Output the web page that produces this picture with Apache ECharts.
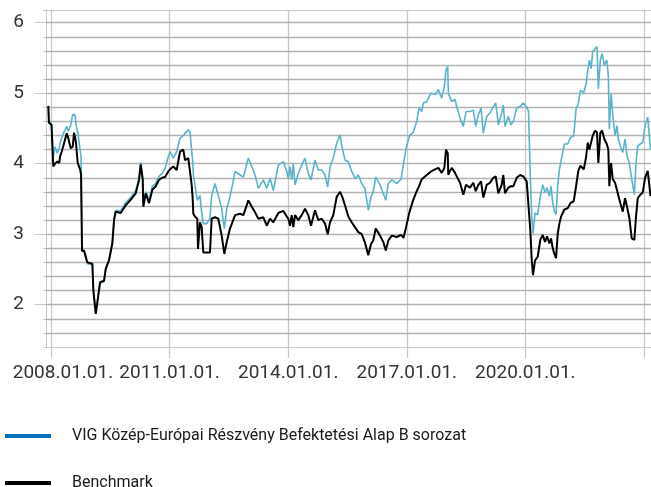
<!DOCTYPE html>
<html><head><meta charset="utf-8">
<script src="https://cdn.jsdelivr.net/npm/echarts@6/dist/echarts.min.js"></script>
<style>html,body{margin:0;padding:0;background:#fff}#c{width:651px;height:487px}</style>
</head><body><div id="c"></div><script>
// Observation dates as decimal years
const years = [2007.932,2007.949,2008.013,2008.058,2008.101,2008.159,2008.210,2008.228,2008.271,2008.311,
2008.354,2008.397,2008.438,2008.498,2008.549,2008.582,2008.607,2008.632,2008.675,2008.734,
2008.759,2008.784,2008.835,2008.918,2009.045,2009.070,2009.131,2009.171,2009.240,2009.341,
2009.384,2009.467,2009.551,2009.594,2009.637,2009.763,2009.890,2010.016,2010.143,2010.226,
2010.269,2010.320,2010.335,2010.396,2010.479,2010.563,2010.649,2010.732,2010.808,2010.884,
2010.967,2011.010,2011.094,2011.180,2011.263,2011.347,2011.390,2011.473,2011.516,2011.559,
2011.585,2011.600,2011.643,2011.701,2011.719,2011.769,2011.812,2011.853,2011.939,2012.022,
2012.065,2012.149,2012.232,2012.318,2012.384,2012.445,2012.528,2012.655,2012.781,2012.865,
2012.991,2013.077,2013.161,2013.244,2013.371,2013.457,2013.540,2013.624,2013.750,2013.877,
2013.963,2014.003,2014.046,2014.089,2014.129,2014.172,2014.256,2014.342,2014.425,2014.509,
2014.577,2014.678,2014.762,2014.848,2014.931,2015.000,2015.058,2015.141,2015.227,2015.311,
2015.369,2015.437,2015.521,2015.607,2015.690,2015.774,2015.860,2015.943,2016.027,2016.095,
2016.153,2016.214,2016.323,2016.406,2016.467,2016.533,2016.619,2016.745,2016.854,2016.917,
2016.980,2017.069,2017.158,2017.251,2017.309,2017.378,2017.418,2017.504,2017.613,2017.714,
2017.798,2017.884,2017.949,2017.992,2018.035,2018.050,2018.094,2018.137,2018.220,2018.263,
2018.347,2018.430,2018.498,2018.599,2018.683,2018.744,2018.810,2018.878,2018.936,2019.022,
2019.105,2019.189,2019.250,2019.316,2019.401,2019.442,2019.485,2019.568,2019.637,2019.695,
2019.781,2019.865,2019.948,2020.034,2020.080,2020.125,2020.161,2020.194,2020.244,2020.312,
2020.378,2020.439,2020.497,2020.548,2020.606,2020.649,2020.692,2020.733,2020.775,2020.818,
2020.859,2020.902,2020.985,2021.071,2021.137,2021.223,2021.281,2021.339,2021.390,2021.476,
2021.534,2021.577,2021.618,2021.661,2021.704,2021.762,2021.812,2021.845,2021.896,2021.939,
2021.997,2022.058,2022.098,2022.123,2022.167,2022.210,2022.268,2022.319,2022.351,2022.402,
2022.463,2022.521,2022.571,2022.630,2022.690,2022.756,2022.799,2022.842,2022.908,2022.969,
2023.027,2023.095,2023.141,2023.166];

const fund = [4.82,4.60,4.57,4.10,4.24,4.15,4.22,4.29,4.36,4.43,
4.48,4.53,4.46,4.55,4.70,4.72,4.69,4.55,4.45,4.20,
4.10,2.78,2.76,2.58,2.57,2.22,1.89,2.05,2.30,2.33,
2.52,2.63,2.90,3.22,3.34,3.33,3.45,3.52,3.62,3.79,
4.02,3.80,3.45,3.60,3.48,3.68,3.72,3.82,3.86,3.93,
4.10,4.17,4.08,4.17,4.36,4.40,4.43,4.48,4.45,4.43,
4.03,3.85,3.70,3.48,3.50,3.55,3.31,3.15,3.15,3.22,
3.55,3.72,3.55,3.36,3.08,3.36,3.53,3.89,3.84,3.81,
4.08,3.96,3.84,3.65,3.77,3.65,3.79,3.62,3.98,4.03,
3.89,3.79,3.96,3.77,4.00,3.70,3.86,3.98,4.08,3.86,
3.77,4.05,3.91,3.91,3.84,3.67,3.96,4.08,4.29,4.41,
4.22,4.05,4.03,3.89,3.79,3.84,3.72,3.65,3.34,3.53,
3.60,3.81,3.70,3.58,3.48,3.72,3.77,3.72,3.78,4.00,
4.22,4.40,4.44,4.60,4.79,4.74,4.86,4.88,5.00,4.98,
5.05,4.93,5.09,5.33,5.38,5.00,5.00,4.88,4.91,4.81,
4.65,4.53,4.74,4.74,4.76,4.53,4.69,4.79,4.43,4.67,
4.72,4.81,4.86,4.55,4.72,4.83,4.53,4.67,4.55,4.60,
4.79,4.81,4.86,4.80,4.75,3.82,3.25,3.01,3.30,3.28,
3.54,3.70,3.59,3.66,3.54,3.68,3.44,3.32,3.28,3.70,
3.92,4.04,4.28,4.28,4.37,4.40,4.78,4.85,5.04,5.01,
5.13,5.32,5.47,5.35,5.59,5.63,5.66,5.06,5.47,5.56,
5.40,5.47,5.25,4.49,4.99,4.70,4.40,4.54,4.35,4.25,
4.16,4.35,4.11,4.01,3.78,3.56,4.01,4.25,4.28,4.30,
4.54,4.66,4.68,4.20];

const benchmark = [4.82,4.58,4.55,3.96,4.00,4.03,4.01,4.10,4.17,4.25,
4.34,4.43,4.36,4.22,4.24,4.44,4.38,4.29,4.01,3.92,
3.85,2.76,2.77,2.60,2.58,2.20,1.87,2.03,2.32,2.34,
2.51,2.63,2.87,3.20,3.32,3.30,3.41,3.49,3.58,3.77,
3.99,3.77,3.39,3.58,3.44,3.63,3.68,3.77,3.80,3.81,
3.89,3.92,3.96,3.91,4.17,4.20,4.05,4.08,3.89,3.70,
3.50,3.29,3.25,3.22,2.79,3.17,3.10,2.74,2.74,2.74,
3.22,3.24,3.22,2.98,2.72,2.89,3.08,3.27,3.29,3.27,
3.48,3.39,3.31,3.22,3.24,3.12,3.22,3.17,3.30,3.33,
3.25,3.22,3.12,3.27,3.10,3.27,3.20,3.27,3.36,3.27,
3.12,3.34,3.20,3.22,3.15,3.00,3.17,3.27,3.53,3.60,
3.53,3.41,3.25,3.17,3.10,3.03,3.00,2.88,2.70,2.86,
2.91,3.08,2.98,2.89,2.77,2.91,2.98,2.96,2.99,2.95,
3.10,3.32,3.48,3.61,3.68,3.78,3.80,3.84,3.89,3.92,
3.94,3.87,3.94,4.20,4.15,3.84,3.90,3.94,3.87,3.82,
3.73,3.56,3.70,3.66,3.73,3.61,3.70,3.75,3.52,3.70,
3.73,3.80,3.82,3.58,3.70,3.84,3.58,3.66,3.68,3.68,
3.80,3.84,3.82,3.75,3.73,3.06,2.63,2.42,2.63,2.68,
2.92,2.99,2.89,2.97,2.87,2.94,2.80,2.72,2.66,3.01,
3.15,3.25,3.35,3.37,3.44,3.47,3.68,3.90,3.97,3.92,
4.09,4.30,4.20,4.30,4.40,4.47,4.44,4.01,4.44,4.47,
4.35,4.28,4.20,3.68,4.01,3.78,3.73,3.62,3.55,3.44,
3.32,3.51,3.39,3.23,2.94,2.92,3.25,3.51,3.56,3.59,
3.80,3.90,3.92,3.54];

const seriesNames = ['VIG Közép-Európai Részvény Befektetési Alap B sorozat', 'Benchmark'];
const yLabelValues = [2, 3, 4, 5, 6];
const xTickYears = [2008, 2011, 2014, 2017, 2020, 2023];
const xLabelYears = [2008, 2011, 2014, 2017, 2020];
const yMin = 1.4, yMax = 6.18, yMinorStep = 0.2;

function yearToTime(y) {
  const Y = Math.floor(y);
  const s = Date.UTC(Y, 0, 1), e = Date.UTC(Y + 1, 0, 1);
  return s + (y - Y) * (e - s);
}
// horizontal gridlines every 0.2 (axis styling, drawn as markLines)
const minorGrid = [];
for (let k = 1; yMin + k * yMinorStep < yMax - 1e-9; k++) {
  const v = Math.round((yMin + k * yMinorStep) * 10) / 10;
  minorGrid.push({ yAxis: v });
}
const grey = '#c8c8c8';
const legendBase = {
  orient: 'vertical', left: 5, padding: 0,
  itemWidth: 46, itemHeight: 4, icon: 'rect',
  textStyle: { fontFamily: 'Roboto', fontSize: 16, color: '#1a1a1a', padding: [0, 0, 0, 16] }
};
const chart = echarts.init(document.getElementById('c'));
chart.setOption({
  animation: false,
  grid: { left: 46, right: 0, top: 10, bottom: 140, containLabel: false },
  legend: [
    Object.assign({}, legendBase, { top: 428, data: [{ name: seriesNames[0], itemStyle: { color: '#0a72b9' } }] }),
    Object.assign({}, legendBase, { top: 475, data: [{ name: seriesNames[1], itemStyle: { color: '#000000' } }] })
  ],
  xAxis: {
    type: 'value',
    min: yearToTime(2007.874), max: yearToTime(2023.178),
    axisLine: { show: true, lineStyle: { color: grey, width: 1 } },
    axisTick: { show: true, length: 11, lineStyle: { color: grey, width: 1.3 },
      customValues: xTickYears.map(yearToTime) },
    splitLine: { show: true, lineStyle: { color: grey, width: 1.3 } },
    axisLabel: {
      customValues: xLabelYears.map(yearToTime),
      fontFamily: 'Roboto', fontSize: 19, color: '#333', margin: 17,
      formatter: function (v) {
        const d = new Date(v);
        const s = d.getUTCFullYear() + '.' + String(d.getUTCMonth() + 1).padStart(2, '0') + '.' + String(d.getUTCDate()).padStart(2, '0') + '.';
        return d.getUTCFullYear() === xLabelYears[0] ? '{first|' + s + '}' : s;
      },
      rich: { first: { fontFamily: 'Roboto', fontSize: 19, color: '#333', padding: [0, 0, 0, 24] } }
    }
  },
  yAxis: [{
    type: 'value', min: yMin, max: yMax, interval: yMinorStep,
    axisLine: { show: true, lineStyle: { color: grey, width: 1 } },
    axisTick: { show: true, interval: 0, length: 3, lineStyle: { color: grey } },
    axisLabel: {
      interval: 0,
      fontFamily: 'Roboto', fontSize: 19, color: '#333', margin: 22,
      formatter: function (v) {
        return yLabelValues.some(t => Math.abs(t - v) < 1e-6) ? String(Math.round(v)) : '';
      }
    },
    splitLine: { show: true, interval: 0, lineStyle: { color: grey, width: 1.2 } }
  }, {
    type: 'value', min: yMin, max: yMax, position: 'left',
    axisLine: { show: false },
    axisTick: { show: true, length: 11, lineStyle: { color: grey }, customValues: yLabelValues },
    axisLabel: { show: false },
    splitLine: { show: false }
  }],
  series: [{
    name: seriesNames[0], type: 'line', yAxisIndex: 0, z: 10,
    data: years.map((y, i) => [yearToTime(y), fund[i]]),
    showSymbol: false, symbol: 'none',
    lineStyle: { color: '#5ab3cb', width: 1.6 }, itemStyle: { color: '#5ab3cb' },
    markLine: {
      silent: true, symbol: 'none', animation: false,
      label: { show: false },
      lineStyle: { color: '#b2b2b2', width: 1.3, type: 'solid', opacity: 1 },
      data: minorGrid
    }
  }, {
    name: seriesNames[1], type: 'line', yAxisIndex: 0, z: 11,
    data: years.map((y, i) => [yearToTime(y), benchmark[i]]),
    showSymbol: false, symbol: 'none',
    lineStyle: { color: '#000000', width: 2 }, itemStyle: { color: '#000000' }
  }]
});
</script></body></html>
